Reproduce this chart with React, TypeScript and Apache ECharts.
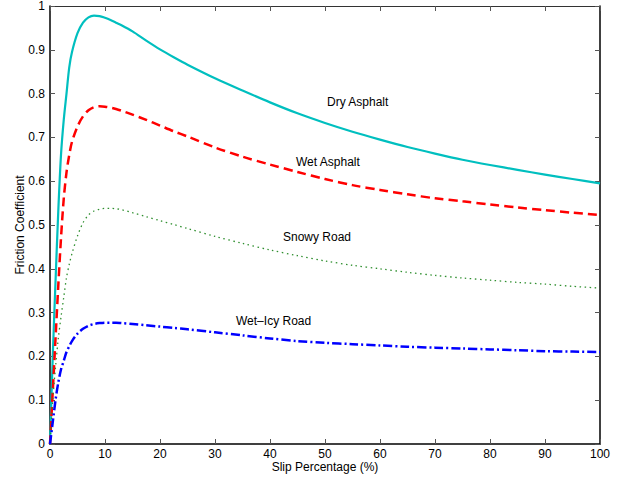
import React, { useEffect, useRef } from "react";
import * as echarts from "echarts";

const slip = [0, 0.5, 1, 1.5, 2, 2.5, 3, 3.5, 4, 5, 6, 7, 8, 9, 10, 11, 12, 13, 15, 17.5, 20, 22.5, 25, 30, 35, 40, 45, 50, 55, 60, 65, 70, 75, 80, 85, 90, 95, 100];
const dryAsphalt = [0, 0.2, 0.37, 0.53, 0.66, 0.74, 0.8, 0.86, 0.895, 0.938, 0.962, 0.974, 0.978, 0.977, 0.973, 0.968, 0.962, 0.956, 0.942, 0.921, 0.901, 0.883, 0.866, 0.835, 0.807, 0.78, 0.755, 0.733, 0.713, 0.695, 0.678, 0.663, 0.649, 0.637, 0.626, 0.615, 0.605, 0.595];
const wetAsphalt = [0, 0.12, 0.24, 0.36, 0.47, 0.56, 0.62, 0.66, 0.69, 0.725, 0.748, 0.762, 0.769, 0.771, 0.77, 0.768, 0.765, 0.761, 0.752, 0.74, 0.727, 0.714, 0.702, 0.677, 0.656, 0.638, 0.621, 0.605, 0.591, 0.58, 0.57, 0.561, 0.554, 0.547, 0.54, 0.534, 0.528, 0.523];
const snowyRoad = [0, 0.1, 0.175, 0.24, 0.29, 0.335, 0.38, 0.41, 0.435, 0.475, 0.505, 0.523, 0.532, 0.536, 0.538, 0.538, 0.537, 0.535, 0.528, 0.519, 0.51, 0.501, 0.492, 0.474, 0.458, 0.443, 0.43, 0.418, 0.408, 0.4, 0.392, 0.385, 0.379, 0.374, 0.369, 0.365, 0.36, 0.356];
const wetIcyRoad = [0, 0.05, 0.1, 0.14, 0.17, 0.19, 0.21, 0.223, 0.235, 0.252, 0.263, 0.27, 0.274, 0.276, 0.277, 0.277, 0.277, 0.276, 0.274, 0.271, 0.268, 0.265, 0.262, 0.255, 0.248, 0.241, 0.235, 0.231, 0.228, 0.225, 0.222, 0.22, 0.218, 0.216, 0.214, 0.212, 0.211, 0.21];

const seriesNames = ["Dry Asphalt", "Wet Asphalt", "Snowy Road", "Wet–Icy Road"];
const xTitle = "Slip Percentage (%)";
const yTitle = "Friction Coefficient";

const FONT = "'Liberation Sans', Arial, Helvetica, sans-serif";

export default function App() {
  const ref = useRef<HTMLDivElement>(null);
  useEffect(() => {
    if (!ref.current) return;
    const chart = echarts.init(ref.current, null, { renderer: "svg" });
    const pairs = (ys: number[]) => slip.map((x, i) => [x, ys[i]]);
    const tick = { show: true, inside: true, length: 5, lineStyle: { color: "#555", width: 1 } };
    const labelStyle = { color: "#000", fontSize: 12, fontFamily: FONT };
    const mk = (name: string, ys: number[], color: string, width: number, type: any) => ({
      name,
      type: "line",
      data: pairs(ys),
      showSymbol: false,
      smooth: 0.3,
      xAxisIndex: 0,
      yAxisIndex: 0,
      lineStyle: { color, width, type, cap: "butt", join: "round" },
      silent: true,
    });
    const textStyle = (text: string) => ({ text, fill: "#000", fontSize: 12, fontFamily: FONT, verticalAlign: "middle", align: "left" });
    chart.setOption({
      animation: false,
      backgroundColor: "#fff",
      grid: { left: 50, right: 28, top: 5, bottom: 40, containLabel: false },
      xAxis: [
        {
          type: "value",
          min: 0,
          max: 100,
          interval: 10,
          position: "bottom",
          name: xTitle,
          nameLocation: "middle",
          nameGap: 17,
          nameMoveOverlap: false,
          nameTextStyle: { ...labelStyle, verticalAlign: "top", lineHeight: 12 },
          axisLine: { show: true, onZero: false, lineStyle: { color: "#000", width: 1.5 } },
          axisTick: tick,
          axisLabel: { ...labelStyle, margin: 4, lineHeight: 12 },
          splitLine: { show: false },
        },
        {
          type: "value",
          min: 0,
          max: 100,
          interval: 10,
          position: "top",
          axisLine: { show: true, onZero: false, lineStyle: { color: "#333", width: 1 } },
          axisTick: tick,
          axisLabel: { show: false },
          splitLine: { show: false },
        },
      ],
      yAxis: [
        {
          type: "value",
          min: 0,
          max: 1,
          interval: 0.1,
          position: "left",
          name: yTitle,
          nameLocation: "middle",
          nameGap: 24,
          nameMoveOverlap: false,
          nameTextStyle: { ...labelStyle },
          axisLine: { show: true, onZero: false, lineStyle: { color: "#000", width: 1.5 } },
          axisTick: tick,
          axisLabel: { ...labelStyle, margin: 5 },
          splitLine: { show: false },
        },
        {
          type: "value",
          min: 0,
          max: 1,
          interval: 0.1,
          position: "right",
          axisLine: { show: true, onZero: false, lineStyle: { color: "#000", width: 1.5 } },
          axisTick: tick,
          axisLabel: { show: false },
          splitLine: { show: false },
        },
      ],
      series: [
        mk(seriesNames[0], dryAsphalt, "#00BFBF", 2.2, "solid"),
        mk(seriesNames[1], wetAsphalt, "#FF0000", 2.5, [9, 5]),
        mk(seriesNames[2], snowyRoad, "#2f8f2f", 1.3, [1.5, 3.5]),
        mk(seriesNames[3], wetIcyRoad, "#0000FF", 2.5, [9, 3, 2, 3]),
      ],
      graphic: [
        { type: "text", x: 327, y: 102, style: textStyle(seriesNames[0]) },
        { type: "text", x: 296, y: 162, style: textStyle(seriesNames[1]) },
        { type: "text", x: 283, y: 237, style: textStyle(seriesNames[2]) },
        { type: "text", x: 236, y: 321, style: textStyle(seriesNames[3]) },
      ],
    });
    return () => chart.dispose();
  }, []);
  return <div ref={ref} style={{ position: "fixed", left: 0, top: 0, width: 628, height: 484, background: "#fff" }} />;
}
